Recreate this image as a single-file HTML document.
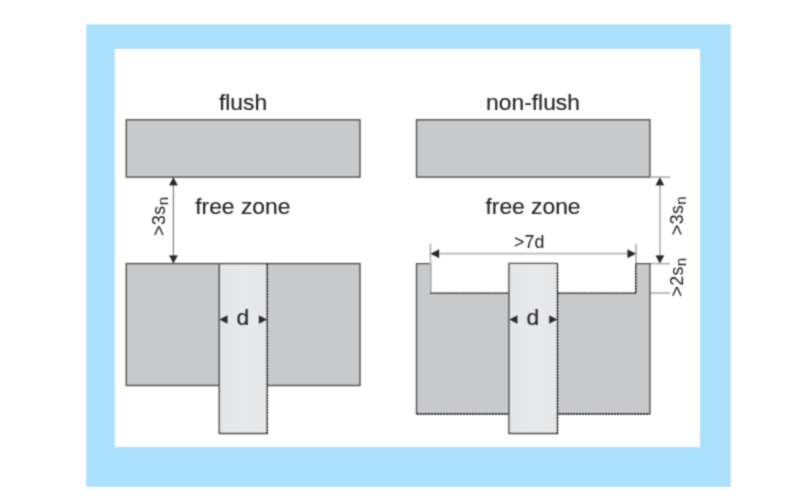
<!DOCTYPE html>
<html lang="en">
<head>
<meta charset="utf-8">
<title>flush / non-flush free zone</title>
<style>
  html, body { margin: 0; padding: 0; background: #ffffff; }
  body { width: 800px; height: 500px; overflow: hidden; }
  svg { display: block; filter: url(#soft); }
  text { font-family: "Liberation Sans", sans-serif; fill: #262527; stroke: #262527; stroke-width: 0.18; }
  text.sm { stroke-width: 0.05; }
  .blk { fill: #c8c9cb; stroke: #505153; stroke-width: 1.4; }
  .dot { fill: none; stroke: #111012; stroke-width: 1.35; stroke-dasharray: 2.4 0.5; }
  .lt  { fill: none; stroke: #b6b7b9; stroke-width: 1.8; }
  .dk  { fill: none; stroke: #363638; stroke-width: 0.75; }
  .ah  { fill: #29282a; stroke: #29282a; stroke-width: 0.25; }
</style>
</head>
<body>
<svg width="800" height="500" viewBox="0 0 800 500">
  <defs>
    <filter id="soft" x="0" y="0" width="100%" height="100%" color-interpolation-filters="sRGB"><feConvolveMatrix order="3" kernelMatrix="1 3 1 3 9 3 1 3 1" divisor="25" edgeMode="duplicate" preserveAlpha="true"/></filter>
    <linearGradient id="sg" x1="0" y1="0" x2="1" y2="0">
      <stop offset="0" stop-color="#e4e5e6"/>
      <stop offset="0.55" stop-color="#e8e9ea"/>
      <stop offset="1" stop-color="#e5e6e7"/>
    </linearGradient>
  </defs>
  <rect x="0" y="0" width="800" height="500" fill="#ffffff"/>
  <!-- blue frame -->
  <rect x="86.3" y="24.4" width="644.6" height="462.5" fill="#abe1fa"/>
  <rect x="114.8" y="49" width="585.2" height="398.1" fill="#ffffff"/>

  <!-- LEFT: flush -->
  <text x="243" y="109.7" font-size="22.8" text-anchor="middle">flush</text>
  <rect class="blk" x="126.3" y="119.8" width="233.7" height="57.3"/>
  <text x="242.8" y="214.2" font-size="22.8" text-anchor="middle">free zone</text>
  <!-- vertical dim -->
  <line class="dk" x1="173.4" y1="178" x2="173.4" y2="263"/>
  <polygon class="ah" points="173.4,177.6 169.2,185.3 177.6,185.3"/>
  <polygon class="ah" points="173.4,263.3 169.2,255.6 177.6,255.6"/>
  <text class="sm" transform="translate(164.8,235.7) rotate(-90)" font-size="17.6" letter-spacing="0.5">&gt;3s<tspan font-size="15" dy="3.2">n</tspan></text>
  <!-- lower block -->
  <rect class="blk" x="126.3" y="263.6" width="233.7" height="121.9"/>
  <!-- sensor -->
  <rect x="219.2" y="263.6" width="48" height="169.9" fill="url(#sg)"/>
  <path d="M267.2,263.6 H219.2 V433.5 H267.2" fill="none" stroke="#505153" stroke-width="1.4"/>
  <line class="dot" x1="267.2" y1="263.6" x2="267.2" y2="434"/>
  <polygon class="ah" points="219.6,319.6 227.4,315.6 227.4,323.6"/>
  <polygon class="ah" points="266.8,319.6 259,315.6 259,323.6"/>
  <text x="242.8" y="324.7" font-size="22.8" text-anchor="middle">d</text>

  <!-- RIGHT: non-flush -->
  <text x="533" y="109.7" font-size="22.8" text-anchor="middle">non-flush</text>
  <rect class="blk" x="416.5" y="119.8" width="233.4" height="57.3"/>
  <text x="533" y="214.2" font-size="22.8" text-anchor="middle">free zone</text>
  <!-- extension / dimension lines (light) -->
  <line class="lt" x1="430.4" y1="243.7" x2="430.4" y2="263.6"/>
  <line class="lt" x1="636.1" y1="243.7" x2="636.1" y2="263.6"/>
  <line class="lt" x1="432" y1="253.6" x2="634" y2="253.6"/>
  <line class="lt" x1="649.9" y1="177.1" x2="670" y2="177.1"/>
  <line class="lt" x1="649.9" y1="263.6" x2="670" y2="263.6"/>
  <line class="lt" x1="649.9" y1="293.1" x2="670" y2="293.1"/>
  <line class="lt" x1="659.9" y1="179" x2="659.9" y2="262"/>
  <!-- lower block with notch -->
  <path d="M416.5,263.6 H430.4 V293.1 H635.8 V263.6 H649.9 V414 H416.5 Z" fill="#c8c9cb"/>
  <path d="M430.4,263.6 H416.5 V414.3 M649.9,414.3 V263.6 H635.8" fill="none" stroke="#505153" stroke-width="1.4"/>
  <path class="dot" d="M416.5,414 H649.9"/>
  <path class="dot" d="M430.6,263.6 V293.1 H635.8 V263.6"/>
  <line x1="430.2" y1="262" x2="430.2" y2="292.4" stroke="#c9cacc" stroke-width="1.6" opacity="0.8"/>
  <!-- sensor -->
  <rect x="508.9" y="263.4" width="48.6" height="170.1" fill="url(#sg)"/>
  <path d="M557.5,263.4 H508.9 V433.5 H557.5" fill="none" stroke="#505153" stroke-width="1.4"/>
  <line class="dot" x1="557.5" y1="263.4" x2="557.5" y2="434"/>
  <polygon class="ah" points="509.5,319.6 517.3,315.6 517.3,323.6"/>
  <polygon class="ah" points="557.1,319.6 549.3,315.6 549.3,323.6"/>
  <text x="532.8" y="324.7" font-size="22.8" text-anchor="middle">d</text>
  <!-- horizontal dim >7d -->
  <polygon class="ah" points="430.8,253.7 439,249.5 439,257.9"/>
  <polygon class="ah" points="635.8,253.7 627.6,249.5 627.6,257.9"/>
  <text class="sm" x="529.2" y="247.6" font-size="17.8" text-anchor="middle">&gt;7d</text>
  <!-- vertical dims right -->
  <polygon class="ah" points="659.9,177.6 655.7,185.3 664.1,185.3"/>
  <polygon class="ah" points="659.9,263.3 655.7,255.6 664.1,255.6"/>
  <text class="sm" transform="translate(683,235) rotate(-90)" font-size="17.6" letter-spacing="0.5">&gt;3s<tspan font-size="15" dy="3.2">n</tspan></text>
  <text class="sm" transform="translate(683,296.6) rotate(-90)" font-size="17.6" letter-spacing="0.5">&gt;2s<tspan font-size="15" dy="3.2">n</tspan></text>
</svg>
</body>
</html>
